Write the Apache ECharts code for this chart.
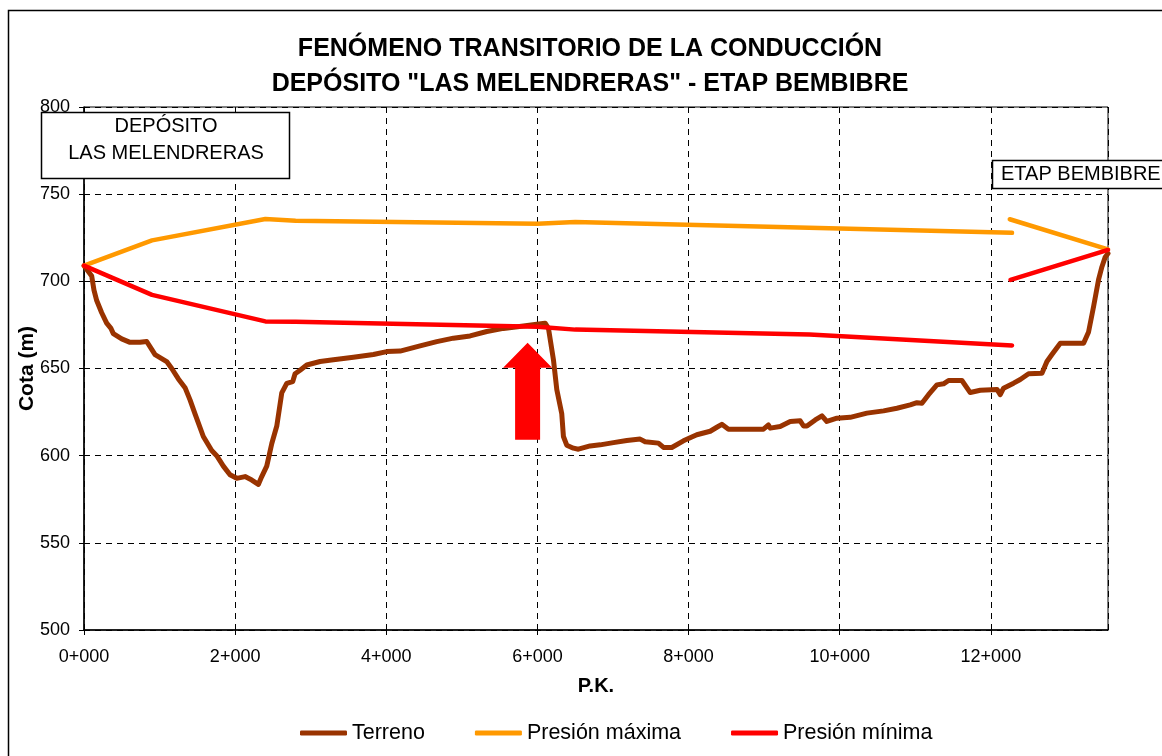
<!DOCTYPE html>
<html lang="es">
<head>
<meta charset="utf-8">
<title>Fenómeno transitorio de la conducción</title>
<script src="https://cdn.jsdelivr.net/npm/echarts@6/dist/echarts.min.js"></script>
<style>
  html, body { margin: 0; padding: 0; background: #fff; }
  #chart { width: 1162px; height: 756px; }
</style>
</head>
<body>
<div id="chart"></div>
<script>
var pkTerreno = [0, 102, 132, 168, 234, 300, 357, 388, 499, 609, 741, 830, 896, 940, 1094, 1161, 1249, 1337, 1403, 1469,
  1579, 1690, 1756, 1844, 1932, 2021, 2131, 2220, 2307, 2352, 2418, 2485, 2551, 2617, 2683, 2762, 2793, 2859, 2948, 3124,
  3300, 3565, 3829, 4007, 4183, 4447, 4668, 4888, 5109, 5330, 5550, 5815, 5992, 6102, 6146, 6212, 6256, 6322, 6344, 6388,
  6476, 6542, 6697, 6830, 7006, 7183, 7359, 7425, 7601, 7668, 7778, 7932, 8109, 8286, 8374, 8440, 8528, 8991, 9057, 9080,
  9212, 9345, 9477, 9521, 9566, 9676, 9765, 9830, 9963, 10139, 10360, 10580, 10757, 10933, 11022, 11088, 11175, 11286, 11374, 11440,
  11617, 11727, 11860, 12081, 12124, 12168, 12301, 12389, 12499, 12676, 12742, 12808, 12919, 13227, 13293, 13359, 13425, 13470, 13514, 13550];
var cotaTerreno = [709, 703, 695, 689, 682, 676, 673, 670, 667, 665, 665, 665.5, 661, 658, 654, 650, 644, 639, 632, 624,
  611, 603, 600, 594, 589, 587, 588, 586, 583.5, 588, 594, 607, 617, 636, 641.5, 642.5, 647, 649, 652, 654,
  655, 656.5, 658, 659.7, 660, 663, 665.4, 667.4, 668.7, 671.2, 673, 674.4, 675.4, 676, 673, 655, 638, 624, 611, 606,
  604.3, 603.7, 605.6, 606.2, 607.5, 608.7, 609.5, 608, 607.2, 604.7, 604.7, 608.5, 612, 614, 616.3, 618, 615.2, 615.2, 617.6, 615.8,
  616.7, 619.6, 620, 617, 617, 620.5, 622.8, 619.6, 621.5, 622, 624.4, 625.7, 627.2, 629.1, 630.4, 630.1, 635, 640.6, 641.2, 643.1,
  643.1, 636.2, 637.5, 638, 635, 638.7, 641.6, 643.7, 647, 647.3, 654, 658, 664.5, 664.5, 671, 685.5, 701, 708.4, 714, 716];

// envolventes de presión (null = tramo sin dibujar)
var pkMax   = [0, 900, 2400, 2800, 6000, 6500, 12280, 12265, 12250, 13550];
var cotaMax = [709, 723.5, 735.8, 734.8, 733, 734, 727.8, null, 735.6, 718.3];
var pkMin   = [0, 900, 2400, 2800, 6000, 6500, 9600, 12280, 12265, 12260, 13550];
var cotaMin = [709, 692.2, 677, 676.8, 674, 672.3, 669.5, 663.2, null, 700.8, 718];

// flecha roja (P.K., cota)
var flecha = [5870, 637];

var xTicks = [0, 2000, 4000, 6000, 8000, 10000, 12000];
var legendNames = ['Terreno', 'Presión máxima', 'Presión mínima'];

function zip(a, b) {
  var out = [];
  for (var i = 0; i < a.length; i++) out.push([a[i], b[i]]);
  return out;
}
function pk(v) {
  var km = Math.floor(v / 1000), m = v % 1000;
  return km + '+' + ('00' + m).slice(-3);
}

var FONT = '"Liberation Sans", Arial, sans-serif';

var chart = echarts.init(document.getElementById('chart'));
var option = {
  animation: false,
  textStyle: { fontFamily: FONT, color: '#000' },
  grid: { left: 84, right: 54, top: 107, bottom: 126, show: true, borderColor: '#000', borderWidth: 1,
          outerBoundsMode: 'none' },
  legend: {
    data: legendNames,
    left: 295, top: 717,
    icon: 'roundRect', itemWidth: 47, itemHeight: 5, itemGap: 50,
    textStyle: { fontSize: 21.5, color: '#000', fontFamily: FONT }
  },
  xAxis: {
    type: 'value', min: 0, max: 13550, interval: 2000,
    name: 'P.K.', nameLocation: 'middle', nameGap: 46,
    nameTextStyle: { fontSize: 20, fontWeight: 'bold', color: '#000' },
    axisLine: { lineStyle: { color: '#000', width: 1.5 } },
    axisTick: { inside: false, length: 5, lineStyle: { color: '#000' } },
    axisLabel: { fontSize: 18, color: '#000', margin: 18, showMaxLabel: false,
      formatter: function (v) { return xTicks.indexOf(v) >= 0 ? pk(v) : ''; } },
    splitLine: { show: true, lineStyle: { color: '#000', type: [6, 5], width: 1 } }
  },
  yAxis: {
    type: 'value', min: 500, max: 800, interval: 50,
    name: 'Cota (m)', nameLocation: 'middle', nameGap: 46, nameMoveOverlap: false,
    nameTextStyle: { fontSize: 21, fontWeight: 'bold', color: '#000' },
    axisLine: { show: true, lineStyle: { color: '#000', width: 1.5 } },
    axisTick: { show: true, length: 5, lineStyle: { color: '#000' } },
    axisLabel: { fontSize: 18, color: '#000', margin: 14 },
    splitLine: { show: true, lineStyle: { color: '#000', type: [6, 5], width: 1 } }
  },
  series: [
    {
      name: 'Terreno', type: 'line', showSymbol: false, symbol: 'none',
      color: '#993300',
      lineStyle: { color: '#993300', width: 5, cap: 'round', join: 'round' },
      data: zip(pkTerreno, cotaTerreno)
    },
    {
      name: 'Presión máxima', type: 'line', showSymbol: false, symbol: 'none',
      color: '#FF9900',
      lineStyle: { color: '#FF9900', width: 4.5, cap: 'round', join: 'round' },
      data: zip(pkMax, cotaMax)
    },
    {
      name: 'Presión mínima', type: 'line', showSymbol: false, symbol: 'none',
      color: '#FF0000',
      lineStyle: { color: '#FF0000', width: 4.5, cap: 'round', join: 'round' },
      data: zip(pkMin, cotaMin),
      markPoint: {
        silent: true,
        symbol: 'path://M24.5,0 L49,25 L37,25 L37,97 L12,97 L12,25 L0,25 Z',
        symbolSize: [49, 97],
        itemStyle: { color: '#FF0000' },
        label: { show: false },
        data: [{ coord: flecha }]
      }
    }
  ],
  graphic: [
    { type: 'rect', shape: { x: 8.5, y: 10.5, width: 1200, height: 800 }, silent: true, z: -10,
      style: { fill: 'none', stroke: '#000', lineWidth: 1.5 } },
    { type: 'text', x: 590, y: 32, silent: true,
      style: { text: 'FENÓMENO TRANSITORIO DE LA CONDUCCIÓN\nDEPÓSITO "LAS MELENDRERAS" - ETAP BEMBIBRE',
        align: 'center', verticalAlign: 'top', lineHeight: 35,
        font: 'bold 25px ' + FONT, fill: '#000' } },
    { type: 'rect', shape: { x: 41.5, y: 112.5, width: 248, height: 66 }, z: 20, silent: true,
      style: { fill: '#fff', stroke: '#000', lineWidth: 1.5 } },
    { type: 'text', x: 166, y: 113, z: 21, silent: true,
      style: { text: 'DEPÓSITO\nLAS MELENDRERAS', align: 'center', verticalAlign: 'top', lineHeight: 27,
        font: '20px ' + FONT, fill: '#000' } },
    { type: 'rect', shape: { x: 992.5, y: 160.5, width: 200, height: 28 }, z: 20, silent: true,
      style: { fill: '#fff', stroke: '#000', lineWidth: 1.5 } },
    { type: 'text', x: 1001, y: 174, z: 21, silent: true,
      style: { text: 'ETAP BEMBIBRE', align: 'left', verticalAlign: 'middle',
        font: '20px ' + FONT, fill: '#000' } }
  ]
};
chart.setOption(option);
</script>
</body>
</html>
